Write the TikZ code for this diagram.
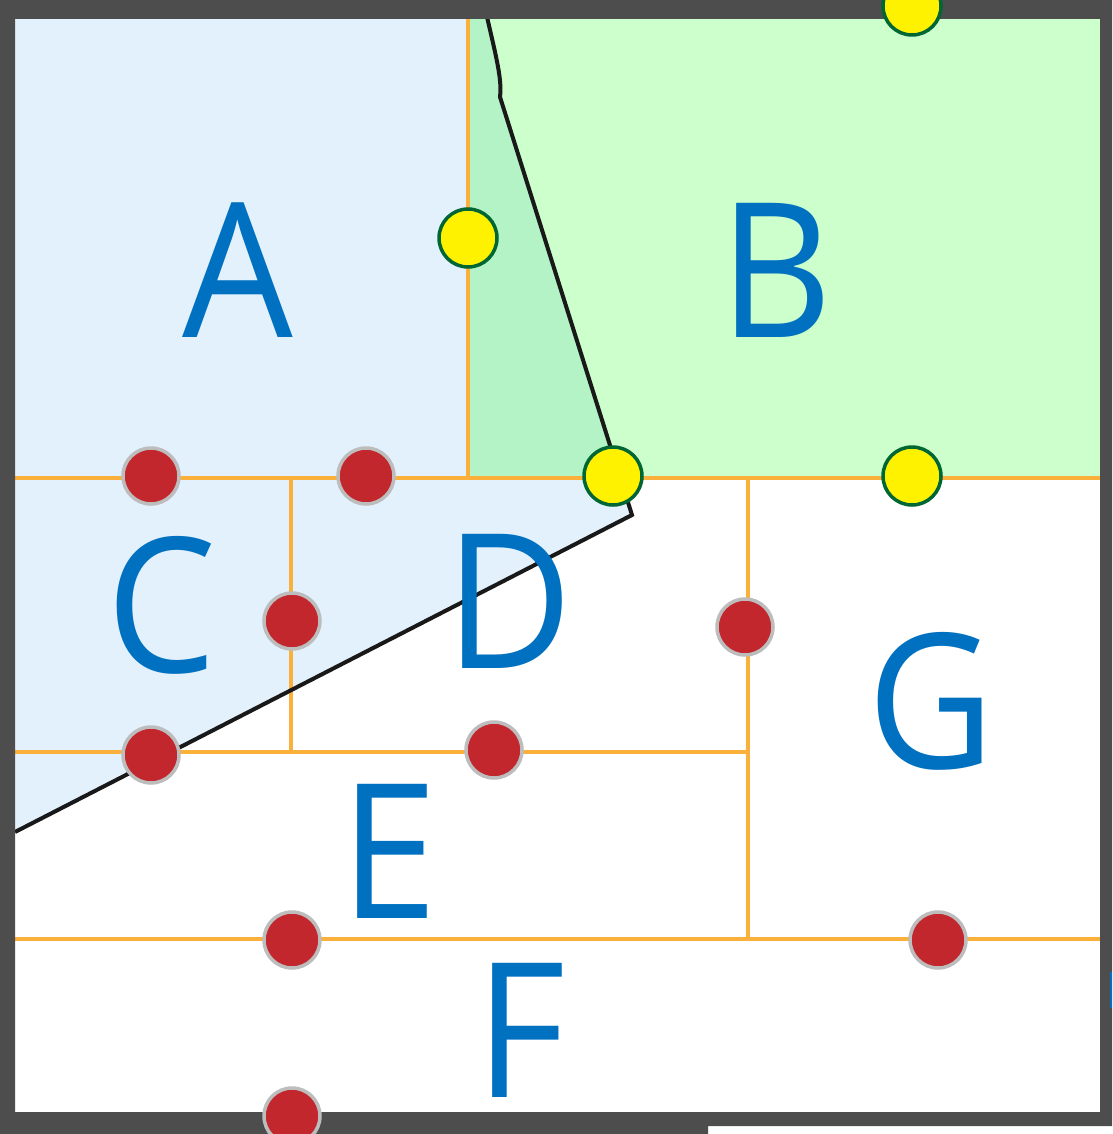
\documentclass[tikz,border=0pt]{standalone}
\usepackage{fontspec}
\setmainfont{Open Sans}
\newcommand\narrowlett[1]{\scalebox{0.93}[1]{#1}}
\begin{document}
\begin{tikzpicture}[x=1pt,y=-1pt,
  redpt/.style={circle,fill=ptred,draw=ptgray,line width=3.5pt,minimum size=56pt,inner sep=0pt},
  yelpt/.style={circle,fill=yellow,draw=ptgreen,line width=3.5pt,minimum size=58pt,inner sep=0pt},
  region/.style={text=letblue,anchor=base,inner sep=0pt,font=\fontsize{188}{188}\selectfont},
  grid/.style={draw=gridor,line width=3.5pt},
  bound/.style={draw=black!90,line width=4pt,line join=miter}]
\definecolor{ptred}{HTML}{C1272D}
\definecolor{ptgray}{HTML}{BDBDBD}
\definecolor{ptgreen}{HTML}{006633}
\definecolor{letblue}{HTML}{0070C0}
\definecolor{gridor}{HTML}{FBB03B}
\definecolor{lblue}{HTML}{E3F1FC}
\definecolor{lgreen}{HTML}{CCFFCC}
\definecolor{mint}{HTML}{B3F3C6}
\definecolor{frame}{HTML}{4D4D4D}
\useasboundingbox (0,0) rectangle (1112,1134);
\fill[white] (0,0) rectangle (1112,1134);
% regions
\fill[lgreen] (468,19) rectangle (1100,478);
\fill[lblue] (15,19) -- (468,19) -- (468,478) -- (620,478) -- (632,515) -- (15,832) -- cycle;
\fill[mint] (468,19) -- (487,19) .. controls (497,60) and (502,80) .. (500,97) -- (620,478) -- (468,478) -- cycle;
% grid lines
\draw[grid] (468,19) -- (468,478);
\draw[grid] (15,478) -- (1100,478);
\draw[grid] (291,478) -- (291,752);
\draw[grid] (15,752) -- (748,752);
\draw[grid] (748,478) -- (748,939);
\draw[grid] (15,939) -- (1100,939);
% boundary
\draw[bound] (487,17) .. controls (497,60) and (502,80) .. (500,97) -- (632,515) -- (15,832);
% frame
\fill[frame,even odd rule] (0,0) -- (1112,0) -- (1112,1126) -- (708,1126) -- (708,1134) -- (0,1134) -- cycle
  (15,19) rectangle (1100,1112);
\fill[letblue] (1110,972) rectangle (1112,1008);
% labels
\node[region] (A) at (238,337) {\narrowlett{A}};
\node[region] (B) at (776,337) {\narrowlett{B}};
\node[region] (C) at (162,672) {\narrowlett{C}};
\node[region] (D) at (509,668) {\narrowlett{D}};
\node[region] (E) at (389,918) {\narrowlett{E}};
\node[region] (F) at (521,1097) {\narrowlett{F}};
\node[region] (G) at (931,768) {\narrowlett{G}};
% points
\node[redpt] (r1) at (151,476) {};
\node[redpt] (r2) at (366,476) {};
\node[redpt] (r3) at (292,621) {};
\node[redpt] (r4) at (151,755) {};
\node[redpt] (r5) at (494,750) {};
\node[redpt] (r6) at (745,627) {};
\node[redpt] (r7) at (292,940) {};
\node[redpt] (r8) at (938,940) {};
\node[redpt] (r9) at (292,1116) {};
\node[yelpt] (y1) at (468,238) {};
\node[yelpt] (y2) at (613,476) {};
\node[yelpt] (y3) at (912,476) {};
\node[yelpt] (y4) at (912,6) {};
\end{tikzpicture}
\end{document}
